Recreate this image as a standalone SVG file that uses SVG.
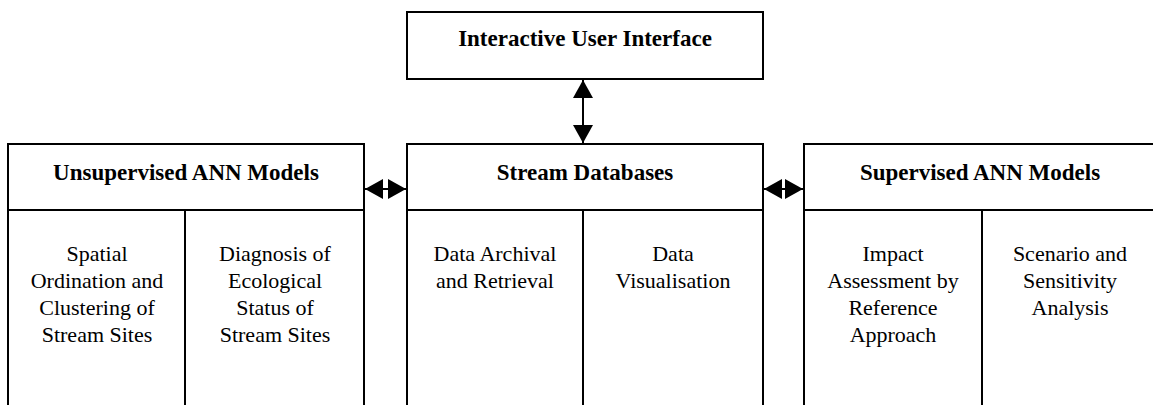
<svg xmlns="http://www.w3.org/2000/svg" width="1153" height="405" viewBox="0 0 1153 405">
<style>
.box{fill:#fff;stroke:#000;stroke-width:2}
.ln{stroke:#000;stroke-width:2;fill:none}
.hd{font-family:"Liberation Serif","Times New Roman",serif;font-weight:bold;font-size:23px;text-anchor:middle;fill:#000}
.tx{font-family:"Liberation Serif","Times New Roman",serif;font-size:22px;text-anchor:middle;fill:#000}
.con{stroke:#000;stroke-width:2;fill:none;marker-start:url(#ah);marker-end:url(#ah)}
</style>
<defs>
<marker id="ah" markerUnits="userSpaceOnUse" markerWidth="18" markerHeight="20" refX="18" refY="10" orient="auto-start-reverse" viewBox="0 0 18 20">
<path d="M0,0 L18,10 L0,20 Z" fill="#000"/>
</marker>
</defs>
<rect width="1153" height="405" fill="#fff"/>
<g id="ui">
<rect class="box" x="407" y="12" width="356" height="67"/>
<text class="hd" x="585" y="46">Interactive User Interface</text>
</g>
<g id="unsupervised">
<rect class="box" x="8" y="144" width="356" height="280"/>
<line class="ln" x1="8" y1="210" x2="364" y2="210"/>
<line class="ln" x1="185" y1="210" x2="185" y2="424"/>
<text class="hd" x="186" y="180">Unsupervised ANN Models</text>
<text class="tx" x="97" y="261">Spatial</text>
<text class="tx" x="97" y="288">Ordination and</text>
<text class="tx" x="97" y="315">Clustering of</text>
<text class="tx" x="97" y="342">Stream Sites</text>
<text class="tx" x="275" y="261">Diagnosis of</text>
<text class="tx" x="275" y="288">Ecological</text>
<text class="tx" x="275" y="315">Status of</text>
<text class="tx" x="275" y="342">Stream Sites</text>
</g>
<g id="databases">
<rect class="box" x="407" y="144" width="356" height="280"/>
<line class="ln" x1="407" y1="210" x2="763" y2="210"/>
<line class="ln" x1="583" y1="210" x2="583" y2="424"/>
<text class="hd" x="585" y="180">Stream Databases</text>
<text class="tx" x="495" y="261">Data Archival</text>
<text class="tx" x="495" y="288">and Retrieval</text>
<text class="tx" x="673" y="261">Data</text>
<text class="tx" x="673" y="288">Visualisation</text>
</g>
<g id="supervised">
<rect class="box" x="804" y="144" width="354" height="280"/>
<line class="ln" x1="804" y1="210" x2="1158" y2="210"/>
<line class="ln" x1="982" y1="210" x2="982" y2="424"/>
<text class="hd" x="980" y="180">Supervised ANN Models</text>
<text class="tx" x="893" y="261">Impact</text>
<text class="tx" x="893" y="288">Assessment by</text>
<text class="tx" x="893" y="315">Reference</text>
<text class="tx" x="893" y="342">Approach</text>
<text class="tx" x="1070" y="261">Scenario and</text>
<text class="tx" x="1070" y="288">Sensitivity</text>
<text class="tx" x="1070" y="315">Analysis</text>
</g>
<g id="connectors">
<line class="con" x1="583" y1="80" x2="583" y2="143"/>
<line class="con" x1="365" y1="189" x2="406" y2="189"/>
<line class="con" x1="764" y1="189" x2="803" y2="189"/>
</g>
</svg>
